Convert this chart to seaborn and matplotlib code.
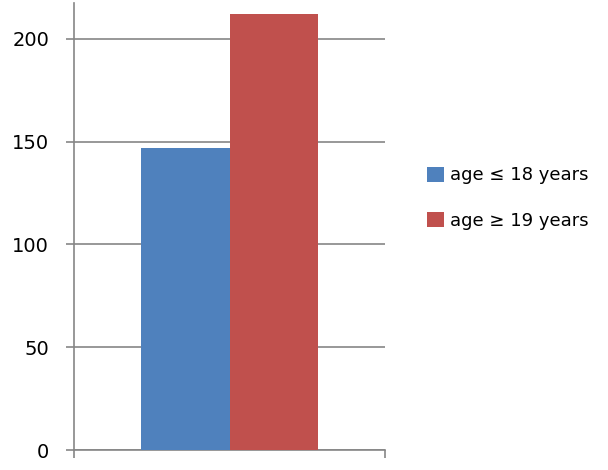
import pandas as pd
import matplotlib
matplotlib.use('Agg')
import matplotlib.pyplot as plt
import seaborn as sns
from matplotlib.patches import Patch

# Data
groups = ['age \u2264 18 years', 'age \u2265 19 years']
counts = [147, 212]
colors = ['#4F81BD', '#C0504D']
y_ticks = [0, 50, 100, 150, 200]

df = pd.DataFrame({'cat': [''] * len(groups), 'group': groups, 'count': counts})

sns.set_theme(style='white')
plt.rcParams['font.family'] = ['DejaVu Sans']
plt.rcParams['text.color'] = 'black'
plt.rcParams['ytick.labelcolor'] = 'black'

fig = plt.figure(figsize=(6.08, 4.70), dpi=100)
ax = fig.add_axes([74 / 608, 20 / 470, 311 / 608, 447 / 470])

sns.barplot(data=df, x='cat', y='count', hue='group', palette=colors,
            width=0.566, saturation=1, ax=ax, legend=False, zorder=3,
            edgecolor='none', linewidth=0)

ax.set_xlim(-0.5, 0.5)
ax.set_ylim(0, 217.5)
ax.set_yticks(y_ticks)
ax.set_xticks([-0.5, 0.5])
ax.set_xticklabels(['', ''])
ax.set_xlabel('')
ax.set_ylabel('')

grid_col = '#868686'
ax.yaxis.grid(True, color=grid_col, linewidth=1.2, zorder=0)
ax.set_axisbelow(True)
for s in ['top', 'right']:
    ax.spines[s].set_visible(False)
for s in ['left', 'bottom']:
    ax.spines[s].set_color(grid_col)
    ax.spines[s].set_linewidth(1.2)
ax.tick_params(axis='y', direction='out', length=6, width=1.2, color=grid_col,
               labelsize=14, labelcolor='black', pad=12, left=True)
ax.tick_params(axis='x', direction='out', length=6, width=1.2, color=grid_col,
               bottom=True)

handles = [Patch(facecolor=c, edgecolor='none') for c in colors]
fig.legend(handles, groups, loc='center left', bbox_to_anchor=(411 / 608, 1 - 198 / 470),
           frameon=False, fontsize=13, handlelength=0.9, handleheight=0.9,
           handletextpad=0.35, labelspacing=1.5, labelcolor='black')

fig.savefig('out.png', dpi=100)
